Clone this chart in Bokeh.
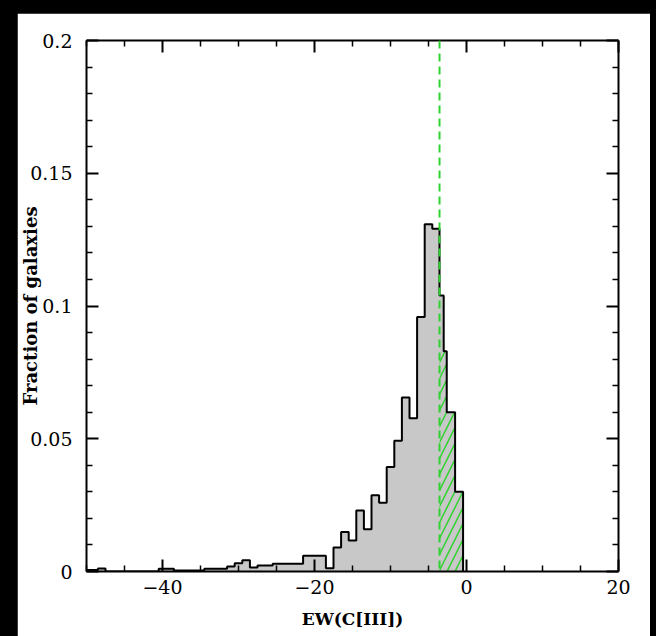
import numpy as np
from bokeh.plotting import figure
from bokeh.models import (Range1d, FixedTicker, LinearAxis, CustomJSTickFormatter,
                          Span, Spacer)
from bokeh.layouts import row, column
from bokeh.embed import file_html
from bokeh.resources import INLINE

# ---------------- data ----------------
# unit-width bins centred on integers from -50 to -4
grey_centers = list(range(-50, -3))
grey_main_heights = [
    0.0006, 0.0006, 0.0011,                                   # -50 .. -48
    0.0, 0.0, 0.0, 0.0, 0.0, 0.0, 0.0,                        # -47 .. -41
    0.0010, 0.0010, 0.0004, 0.0004, 0.0004, 0.0004,           # -40 .. -35
    0.0010, 0.0010, 0.0010, 0.0019, 0.0031, 0.0042,           # -34 .. -29
    0.0015, 0.0023, 0.0023, 0.0029, 0.0029, 0.0029, 0.0029,   # -28 .. -22
    0.0059, 0.0059, 0.0059, 0.0012, 0.0090, 0.0149,           # -21 .. -16
    0.0117, 0.0230, 0.0159, 0.0287, 0.0259, 0.0394,           # -15 .. -10
    0.0492, 0.0655, 0.0577, 0.0959, 0.1308, 0.1291,           # -9 .. -4
]
# tail of the grey histogram (right of the dashed line)
tail_edges = [-3.55, -3.0, -2.6, -1.5, -0.45]
tail_heights = [0.104, 0.083, 0.060, 0.030]

# hatched histogram
hatch_edges = [-3.55, -2.6, -1.5, -0.45]
hatch_heights = [0.083, 0.060, 0.030]

threshold = -3.55

x_major = [-40, -20, 0, 20]
x_labels = ["\u221240", "\u221220", "0", "20"]
x_minor = [-50, -45, -35, -30, -25, -15, -10, -5, 5, 10, 15]
y_major = [0, 0.05, 0.1, 0.15, 0.2]
y_labels = ["0", "0.05", "0.1", "0.15", "0.2"]
y_minor = [0.01, 0.02, 0.03, 0.04, 0.06, 0.07, 0.08, 0.09,
           0.11, 0.12, 0.13, 0.14, 0.16, 0.17, 0.18, 0.19]

x_title = "EW(C[III])"
y_title = "Fraction of galaxies"

# ---------------- derived ----------------
def outline(edges, heights):
    xs = [edges[0]]
    ys = [0.0]
    for i, h in enumerate(heights):
        xs += [edges[i], edges[i + 1]]
        ys += [h, h]
    xs.append(edges[-1])
    ys.append(0.0)
    return xs, ys

grey_edges = [c - 0.5 for c in grey_centers] + tail_edges
grey_heights = grey_main_heights + tail_heights
gx, gy = outline(grey_edges, grey_heights)
hx, hy = outline(hatch_edges, hatch_heights)

GREEN = "#2fd22f"
FONT = "DejaVu Serif"

p = figure(width=633, height=623, x_range=Range1d(-50, 20), y_range=Range1d(0, 0.2),
           output_backend="svg", toolbar_location=None,
           min_border_left=69, min_border_right=32, min_border_top=27, min_border_bottom=65)
p.background_fill_color = "white"
p.border_fill_color = "white"
p.outline_line_color = None
p.xgrid.visible = False
p.ygrid.visible = False

p.patch(gx, gy, fill_color="#c8c8c8", line_color=None)
p.patch(hx, hy, fill_color=None, line_color=None, hatch_pattern="/", hatch_color=GREEN,
        hatch_scale=16, hatch_weight=1.5)
p.line(gx, gy, line_color="black", line_width=2)

p.add_layout(Span(location=threshold, dimension="height", line_color=GREEN,
                  line_dash="8 5", line_width=2))

xt = FixedTicker(ticks=x_major, minor_ticks=x_minor)
yt = FixedTicker(ticks=y_major, minor_ticks=y_minor)

p.add_layout(LinearAxis(), "above")
p.add_layout(LinearAxis(), "right")

blank = CustomJSTickFormatter(code="return ''")

for ax in p.xaxis:
    ax.ticker = xt
for ax in p.yaxis:
    ax.ticker = yt
for ax in p.xaxis + p.yaxis:
    ax.axis_line_width = 2
    ax.axis_line_color = "black"
    ax.major_tick_line_width = 2
    ax.minor_tick_line_width = 1.5
    ax.major_tick_in = 12
    ax.major_tick_out = 0
    ax.minor_tick_in = 6
    ax.minor_tick_out = 0
    ax.major_label_text_font = FONT
    ax.major_label_text_font_size = "19px"
    ax.major_label_text_color = "black"

p.above[0].formatter = blank
p.right[0].formatter = blank

bx = p.below[0]
bx.major_label_overrides = {t: l for t, l in zip(x_major, x_labels)}
bx.major_label_standoff = 8
bx.axis_label = x_title
bx.axis_label_text_font = FONT
bx.axis_label_text_font_style = "bold"
bx.axis_label_text_font_size = "17px"
bx.axis_label_text_color = "black"
bx.axis_label_standoff = 12

ly = p.left[0]
ly.major_label_overrides = {t: l for t, l in zip(y_major, y_labels)}
ly.major_label_standoff = 14
ly.axis_label = y_title
ly.axis_label_text_font = FONT
ly.axis_label_text_font_style = "bold"
ly.axis_label_text_font_size = "18px"
ly.axis_label_text_color = "black"
ly.axis_label_standoff = -14

layout = row(Spacer(width=17, height=636),
             column(Spacer(width=633, height=13), p),
             Spacer(width=6, height=636),
             styles={"background-color": "black"})

open("out.html", "w").write(file_html(layout, INLINE))
